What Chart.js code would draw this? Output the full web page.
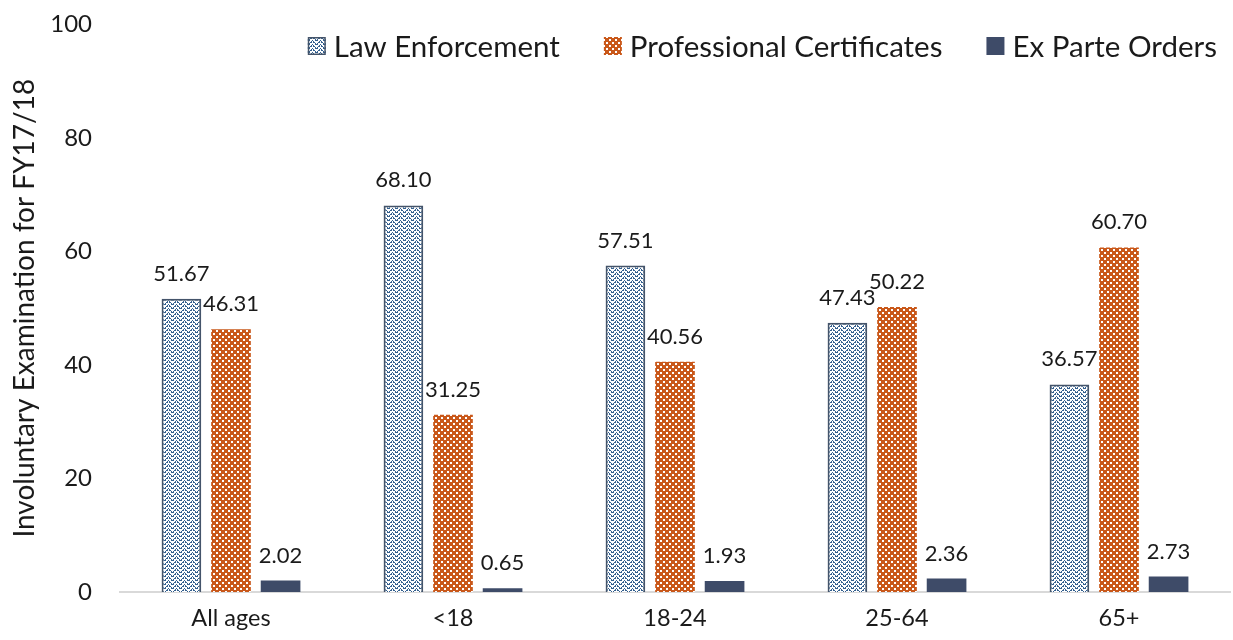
<!DOCTYPE html>
<html>
<head>
<meta charset="utf-8">
<script src="https://cdn.jsdelivr.net/npm/chart.js@4.4.1/dist/chart.umd.min.js"></script>
<style>
  html, body { margin: 0; padding: 0; background: #ffffff; }
  #wrap { width: 1233px; height: 640px; position: relative; }
</style>
</head>
<body>
<div id="wrap"><canvas id="c" width="1233" height="640"></canvas></div>
<script>
const categories = ["All ages", "<18", "18-24", "25-64", "65+"];
const lawEnforcement = [51.67, 68.10, 57.51, 47.43, 36.57];
const professionalCertificates = [46.31, 31.25, 40.56, 50.22, 60.70];
const exParteOrders = [2.02, 0.65, 1.93, 2.36, 2.73];
const seriesNames = ["Law Enforcement", "Professional Certificates", "Ex Parte Orders"];
const yTicks = [0, 20, 40, 60, 80, 100];

const FONT = "Lato, 'Open Sans', sans-serif";
const TEXT = '#1a1a1a';

function hexToRgb(h) { return [parseInt(h.substr(1,2),16), parseInt(h.substr(3,2),16), parseInt(h.substr(5,2),16)]; }
function makePattern(size, bg, fg, test) {
  const c = document.createElement('canvas');
  c.width = size; c.height = size;
  const g = c.getContext('2d');
  const img = g.createImageData(size, size);
  const b = hexToRgb(bg), f = hexToRgb(fg);
  for (let y = 0; y < size; y++) for (let x = 0; x < size; x++) {
    const col = test(x, y) ? f : b;
    const k = (y * size + x) * 4;
    img.data[k] = col[0]; img.data[k+1] = col[1]; img.data[k+2] = col[2]; img.data[k+3] = 255;
  }
  g.putImageData(img, 0, 0);
  return g.createPattern(c, 'repeat');
}
// zigzag weave: chevrons every 4 rows
const lawPattern = makePattern(8, '#ffffff', '#34608f', (x, y) => {
  const d = (y + Math.abs((x % 8) - 4)) % 4;
  return d === 0 || (d === 1 && (x % 2 === 1));
});
const profPattern = makePattern(6, '#c9581a', '#ffffff', (x, y) => {
  const cx = Math.floor(x / 3), cy = Math.floor(y / 3);
  return ((cx + cy) % 2 === 0) && (x % 3 !== 2) && (y % 3 !== 2);
});
const fills = [lawPattern, profPattern, '#3e4b68'];
const borders = ['#44546a', null, null];

const valueLabels = {
  id: 'valueLabels',
  afterDatasetsDraw(chart) {
    const ctx = chart.ctx;
    ctx.save();
    ctx.font = "22px " + FONT;
    ctx.fillStyle = TEXT;
    ctx.textAlign = 'center';
    ctx.textBaseline = 'alphabetic';
    chart.data.datasets.forEach((ds, i) => {
      const meta = chart.getDatasetMeta(i);
      meta.data.forEach((el, j) => {
        ctx.fillText(ds.data[j].toFixed(2), el.x, el.y - 18);
      });
    });
    ctx.restore();
  }
};

const topLegend = {
  id: 'topLegend',
  afterDraw(chart) {
    const ctx = chart.ctx;
    ctx.save();
    ctx.font = "29.5px " + FONT;
    ctx.textBaseline = 'middle';
    ctx.textAlign = 'left';
    const box = 18, gapText = 8, gapItem = 44;
    const widths = seriesNames.map(n => ctx.measureText(n).width);
    const total = widths.reduce((a, w) => a + box + gapText + w, 0) + gapItem * (seriesNames.length - 1);
    let x = chart.chartArea.right - 13 - total;
    const cy = 46;
    seriesNames.forEach((n, i) => {
      ctx.fillStyle = fills[i];
      ctx.fillRect(x, cy - box / 2, box, box);
      if (borders[i]) {
        ctx.strokeStyle = borders[i]; ctx.lineWidth = 1.5;
        ctx.strokeRect(x + 0.75, cy - box / 2 + 0.75, box - 1.5, box - 1.5);
      }
      ctx.fillStyle = TEXT;
      ctx.fillText(n, x + box + gapText, cy + 1);
      x += box + gapText + widths[i] + gapItem;
    });
    ctx.restore();
  }
};

new Chart(document.getElementById('c'), {
  type: 'bar',
  data: {
    labels: categories,
    datasets: [
      { label: seriesNames[0], data: lawEnforcement, backgroundColor: fills[0], borderColor: borders[0], borderWidth: 2 },
      { label: seriesNames[1], data: professionalCertificates, backgroundColor: fills[1], borderWidth: 0 },
      { label: seriesNames[2], data: exParteOrders, backgroundColor: fills[2], borderWidth: 0 }
    ]
  },
  options: {
    responsive: false,
    animation: false,
    devicePixelRatio: 1,
    layout: { padding: { top: 0, right: 3, left: 0, bottom: 0 } },
    datasets: { bar: { categoryPercentage: 0.67, barPercentage: 0.8 } },
    plugins: {
      legend: { display: false },
      tooltip: { enabled: false }
    },
    scales: {
      x: {
        grid: { display: false, drawTicks: false },
        border: { display: true, color: '#d9d9d9', width: 2 },
        ticks: { font: { family: FONT, size: 23.5 }, color: TEXT, padding: 12 },
        afterFit(s) { s.height = 48; }
      },
      y: {
        min: 0, max: 100,
        afterBuildTicks(s) { s.ticks = yTicks.map(v => ({ value: v })); },
        grid: { display: false, drawTicks: true, tickLength: 18 },
        border: { display: false },
        ticks: { font: { family: FONT, size: 24 }, color: TEXT, padding: 10 },
        title: { display: true, text: 'Involuntary Examination for FY17/18', font: { family: FONT, size: 28 }, color: TEXT, padding: { top: 8, bottom: 0 } },
        afterFit(s) { s.width = 120; }
      }
    }
  },
  plugins: [valueLabels, topLegend]
});
</script>
</body>
</html>
